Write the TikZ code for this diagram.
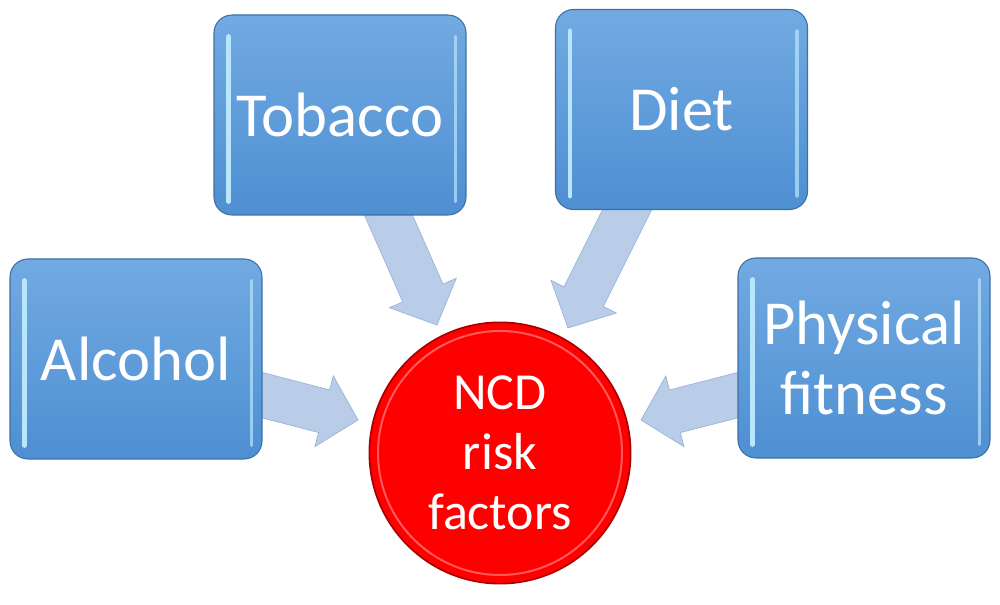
\documentclass[tikz,border=0pt]{standalone}
\usepackage{fontspec}
\setmainfont{Carlito}
\usetikzlibrary{calc}
\definecolor{boxtop}{HTML}{72AAE2}
\definecolor{boxbot}{HTML}{4E8FD2}
\definecolor{boxedge}{HTML}{3E70A6}
\definecolor{boxhl}{HTML}{B8E6FC}
\definecolor{arrfill}{HTML}{B9CDE9}
\definecolor{arredge}{HTML}{98B2D6}
\definecolor{ncdred}{HTML}{FF0000}
\definecolor{ncdedge}{HTML}{A80000}
\tikzset{
  riskbox/.style={rounded corners=13.5pt, top color=boxtop, bottom color=boxbot,
    draw=boxedge, line width=0.8pt, minimum width=189pt, minimum height=150pt,
    inner sep=0pt, text=white, align=center,
    font=\fontsize{47}{53}\selectfont},
  hl/.style={boxhl, line width=3.5pt, line cap=round},
  hlr/.style={boxhl, line width=2.5pt, line cap=round, opacity=0.7},
  blockarr/.style={fill=arrfill, draw=arredge, line width=0.5pt, line join=miter},
  centre/.style={circle, minimum size=196pt, inner sep=0pt, fill=ncdred,
    draw=ncdedge, line width=1.2pt, text=white, align=center,
    font=\fontsize{39}{45}\selectfont}
}
\newcommand{\blockarrow}[2]{%
  \path[blockarr]
    ($(#1)!16.5pt!90:(#2)$) --
    ($($(#2)!26.25pt!(#1)$)!16.5pt!-90:(#1)$) --
    ($($(#2)!26.25pt!(#1)$)!27.4pt!-90:(#1)$) --
    (#2) --
    ($($(#2)!26.25pt!(#1)$)!27.4pt!90:(#1)$) --
    ($($(#2)!26.25pt!(#1)$)!16.5pt!90:(#1)$) --
    ($(#1)!16.5pt!-90:(#2)$) -- cycle;}
\begin{document}
\begin{tikzpicture}[x=0.75pt,y=-0.75pt]
\useasboundingbox (0,0) rectangle (1000,605);
% centre circle
\node[centre] (ncd) at (500,453) {NCD\\risk\\factors};
\draw[white, opacity=0.35, line width=1.5pt] (ncd.center) circle [radius=122];
% arrow end points
\coordinate (sA) at (250,392);
\coordinate (tA) at (358,420);
\coordinate (sT) at (384,205);
\coordinate (tT) at (437,325);
\coordinate (sD) at (632,200);
\coordinate (tD) at (568,328);
\coordinate (sP) at (750,392);
\coordinate (tP) at (641,420);
\blockarrow{sA}{tA}
\blockarrow{sT}{tT}
\blockarrow{sD}{tD}
\blockarrow{sP}{tP}
% boxes
\node[riskbox] (alc) at (136,359) {Alcohol};
\node[riskbox] (tob) at (340,115) {Tobacco};
\node[riskbox] (diet) at (681.5,109.5) {Diet};
\node[riskbox] (phys) at (864,358) {Physical\\fitness};
% bevel highlights
\foreach \b in {alc,tob,diet,phys}{
  \draw[hl] ([shift={(15,22)}]\b.north west) -- ([shift={(15,-14)}]\b.south west);
  \draw[hlr] ([shift={(-11,22)}]\b.north east) -- ([shift={(-11,-14)}]\b.south east);
}
\end{tikzpicture}
\end{document}
